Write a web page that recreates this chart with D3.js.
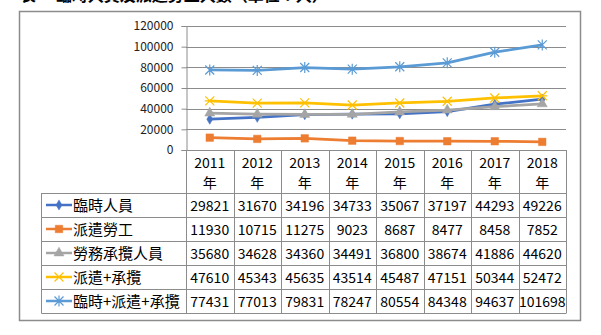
<!DOCTYPE html>
<html>
<head>
<meta charset="utf-8">
<script src="https://cdn.jsdelivr.net/npm/d3@7"></script>
<style>
  html, body { margin: 0; padding: 0; background: #fff; }
  svg { display: block; }
</style>
</head>
<body>
<svg id="chart" width="601" height="335"></svg>
<script>
// Categories and series values
const years = ["2011", "2012", "2013", "2014", "2015", "2016", "2017", "2018"];
const seriesNames = ["臨時人員", "派遣勞工", "勞務承攬人員", "派遣+承攬", "臨時+派遣+承攬"];
const temporary   = [29821, 31670, 34196, 34733, 35067, 37197, 44293, 49226];
const dispatched  = [11930, 10715, 11275, 9023, 8687, 8477, 8458, 7852];
const outsourced  = [35680, 34628, 34360, 34491, 36800, 38674, 41886, 44620];
const dispOut     = [47610, 45343, 45635, 43514, 45487, 47151, 50344, 52472];
const allThree    = [77431, 77013, 79831, 78247, 80554, 84348, 94637, 101698];
const yTicks = [0, 20000, 40000, 60000, 80000, 100000, 120000];
const titleText = "表一 臨時人員及派遣勞工人數（單位：人）";

const seriesValues = [temporary, dispatched, outsourced, dispOut, allThree];
const colors = ["#4472C4", "#ED7D31", "#A5A5A5", "#FFC000", "#5B9BD5"];
const markers = ["diamond", "square", "triangle", "cross", "asterisk"];

const svg = d3.select("#chart");
const font = "'Noto Sans CJK TC', 'Noto Sans', sans-serif";
const grid = "#8c8c8c";

// Title line running off the top of the page
svg.append("text").attr("x", 20).attr("y", 0.5)
  .attr("font-family", font).attr("font-size", 16).attr("font-weight", "bold")
  .attr("fill", "#000").text(titleText);

// Chart frame
svg.append("rect").attr("x", 19.5).attr("y", 11.5).attr("width", 561).attr("height", 309)
  .attr("fill", "#fff").attr("stroke", "#8c8c8c").attr("stroke-width", 1.5);

const plotL = 186, plotR = 566, plotT = 26, plotB = 150;
const x = d3.scaleBand().domain(years).range([plotL, plotR]);
const y = d3.scaleLinear().domain([0, 120000]).range([plotB, plotT]);

// Gridlines
svg.append("g").selectAll("line").data(yTicks.filter(d => d > 0)).join("line")
  .attr("x1", plotL).attr("x2", plotR)
  .attr("y1", d => Math.round(y(d)) + 0.5).attr("y2", d => Math.round(y(d)) + 0.5)
  .attr("stroke", grid).attr("stroke-width", 1);

// Y axis
const yAxis = d3.axisLeft(y).tickValues(yTicks).tickSize(5).tickFormat(d3.format("d"));
const yg = svg.append("g").attr("transform", `translate(${plotL + 0.5},0)`).call(yAxis);
yg.select(".domain").attr("stroke", grid);
yg.selectAll(".tick line").attr("stroke", grid);
yg.selectAll(".tick text").attr("font-family", font).attr("font-size", 12)
  .attr("fill", "#222").attr("x", -13);

// Data table layout
const tableL = 41.5, headB = 193, rowH = 24;
const tableB = headB + rowH * seriesNames.length;
const tbl = svg.append("g").attr("stroke", grid).attr("stroke-width", 1);
tbl.append("line").attr("x1", plotL).attr("x2", plotR).attr("y1", plotB + 0.5).attr("y2", plotB + 0.5);
d3.range(seriesNames.length + 1).forEach(i => {
  const yy = Math.round(headB + i * rowH) + 0.5;
  tbl.append("line").attr("x1", tableL).attr("x2", plotR).attr("y1", yy).attr("y2", yy);
});
[...years.map(d => x(d)), plotR].forEach(xx => {
  const xr = Math.round(xx) + 0.5;
  tbl.append("line").attr("x1", xr).attr("x2", xr).attr("y1", plotB).attr("y2", tableB + 0.5);
});
tbl.append("line").attr("x1", tableL).attr("x2", tableL).attr("y1", headB).attr("y2", tableB + 0.5);

// Header: years
const head = svg.append("g").attr("font-family", font).attr("font-size", 14)
  .attr("fill", "#000").attr("text-anchor", "middle");
years.forEach(yr => {
  const cx = x(yr) + x.bandwidth() / 2;
  head.append("text").attr("x", cx).attr("y", 168).text(yr);
  head.append("text").attr("x", cx).attr("y", 188).text("年");
});

// Marker symbol paths
function markerPath(type) {
  switch (type) {
    case "diamond": return d3.symbol(d3.symbolDiamond, 30)();
    case "square": return d3.symbol(d3.symbolSquare, 56)();
    case "triangle": return d3.symbol(d3.symbolTriangle, 44)();
    case "cross": return "M-4.5,-4.5L4.5,4.5M-4.5,4.5L4.5,-4.5M-5,0L5,0";
    case "asterisk": return "M-4.5,-4.5L4.5,4.5M-4.5,4.5L4.5,-4.5M0,-5.5L0,5.5";
  }
}
function drawMarker(g, type, color, cx, cy) {
  const p = g.append("path").attr("d", markerPath(type))
    .attr("transform", `translate(${cx},${cy})`);
  if (type === "cross" || type === "asterisk") {
    p.attr("fill", "none").attr("stroke", color).attr("stroke-width", 1.2);
  } else {
    p.attr("fill", color).attr("stroke", color).attr("stroke-width", 0.5);
  }
}

// Series lines and markers
const line = d3.line().x((d, i) => x(years[i]) + x.bandwidth() / 2).y(d => y(d));
seriesValues.forEach((vals, si) => {
  const g = svg.append("g");
  g.append("path").datum(vals).attr("d", line)
    .attr("fill", "none").attr("stroke", colors[si]).attr("stroke-width", 2.75)
    .attr("stroke-linejoin", "round");
  vals.forEach((v, i) => drawMarker(g, markers[si], colors[si], x(years[i]) + x.bandwidth() / 2, y(v)));
});

// Table rows: legend keys, names and values
seriesNames.forEach((name, si) => {
  const cy = headB + si * rowH + rowH / 2;
  const g = svg.append("g");
  g.append("line").attr("x1", 46).attr("x2", 72).attr("y1", cy).attr("y2", cy)
    .attr("stroke", colors[si]).attr("stroke-width", 2.5);
  drawMarker(g, markers[si], colors[si], 59, cy);
  g.append("text").attr("x", 73).attr("y", cy + 5.5)
    .attr("font-family", font).attr("font-size", 15).attr("fill", "#000").text(name);
  seriesValues[si].forEach((v, i) => {
    g.append("text").attr("x", x(years[i]) + x.bandwidth() / 2).attr("y", cy + 5.5)
      .attr("text-anchor", "middle").attr("font-family", font).attr("font-size", 14)
      .attr("fill", "#000").text(v);
  });
});
</script>
</body>
</html>
